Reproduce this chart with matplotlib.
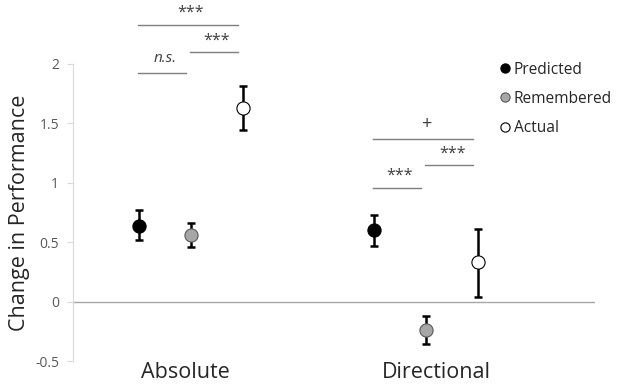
import numpy as np
import matplotlib.pyplot as plt

plt.rcParams['font.family'] = ['Open Sans', 'DejaVu Sans']

# datos: cambio en rendimiento por condicion
categorias = ['Absolute', 'Directional']
series = ['Predicted', 'Remembered', 'Actual']
medias = {
    'Predicted':  [0.64, 0.60],
    'Remembered': [0.56, -0.24],
    'Actual':     [1.63, 0.33],
}
err_sup = {
    'Predicted':  [0.13, 0.13],
    'Remembered': [0.10, 0.12],
    'Actual':     [0.18, 0.28],
}
err_inf = {
    'Predicted':  [0.12, 0.13],
    'Remembered': [0.10, 0.12],
    'Actual':     [0.19, 0.29],
}

# comparaciones: (categoria, serie_a, serie_b, altura, etiqueta)
comparaciones = [
    (0, 'Predicted', 'Actual', 2.33, '***'),
    (0, 'Remembered', 'Actual', 2.10, '***'),
    (0, 'Predicted', 'Remembered', 1.92, 'n.s.'),
    (1, 'Predicted', 'Actual', 1.37, '+'),
    (1, 'Remembered', 'Actual', 1.15, '***'),
    (1, 'Predicted', 'Remembered', 0.96, '***'),
]

centros = np.array([0.452, 1.352])
desplaz = {'Predicted': -0.2, 'Remembered': 0.0, 'Actual': 0.2}
relleno = {'Predicted': 'black', 'Remembered': '#a6a6a6', 'Actual': 'white'}

fig = plt.figure(figsize=(6.2, 3.85), dpi=100)
ax = fig.add_axes([0.1177, 0.0623, 0.8423, 0.7717])

for s in series:
    x = centros + desplaz[s]
    ax.errorbar(x, medias[s], yerr=[err_inf[s], err_sup[s]], fmt='none',
                ecolor='black', elinewidth=1.8, capsize=3, capthick=1.8, zorder=2)
    ax.plot(x, medias[s], 'o', ms=9.5, mfc=relleno[s], mec='black' if s != 'Remembered' else '#595959',
            mew=0.8, zorder=3, label=s)

ax.set_xlim(0, 2)
ax.set_ylim(-0.5, 2)
ax.axhline(0, color='#a6a6a6', lw=1, zorder=1)

for cat, a, b, h, txt in comparaciones:
    xa = centros[cat] + desplaz[a]
    xb = centros[cat] + desplaz[b]
    ax.plot([xa - 0.003, xb - 0.02], [h, h], color='#7f7f7f', lw=1, clip_on=False)
    if txt == 'n.s.':
        ax.text((xa + xb) / 2, h + 0.06, txt, ha='center', va='bottom', fontsize=11,
                style='italic', color='#404040', clip_on=False)
    elif txt == '+':
        ax.text((xa + xb) / 2, h + 0.05, txt, ha='center', va='bottom', fontsize=13,
                color='#404040', clip_on=False)
    else:
        ax.text((xa + xb) / 2, h + 0.03, txt, ha='center', va='bottom', fontsize=11.5,
                color='#404040', clip_on=False)

ax.spines['top'].set_visible(False)
ax.spines['right'].set_visible(False)
ax.spines['bottom'].set_visible(False)
ax.spines['left'].set_color('#d9d9d9')
ax.set_yticks([-0.5, 0, 0.5, 1, 1.5, 2])
ax.set_yticklabels(['-0.5', '0', '0.5', '1', '1.5', '2'])
ax.tick_params(axis='y', length=4, color='#d9d9d9', labelsize=10, labelcolor='#595959', pad=6)
ax.set_xticks(centros - 0.02 + np.array([0, 0.06]))
ax.set_xticklabels(categorias, fontsize=15.5, color='#262626')
ax.tick_params(axis='x', length=0, pad=1)
ax.set_ylabel('Change in Performance', fontsize=15.5, color='#262626', labelpad=4)

leg = ax.legend(loc='upper left', bbox_to_anchor=(0.792, 1.055), frameon=False,
                handlelength=0.6, handletextpad=0.25, labelspacing=0.85, fontsize=11.2,
                markerscale=0.7)
for t in leg.get_texts():
    t.set_color('#262626')

fig.savefig('out.png', dpi=100)
